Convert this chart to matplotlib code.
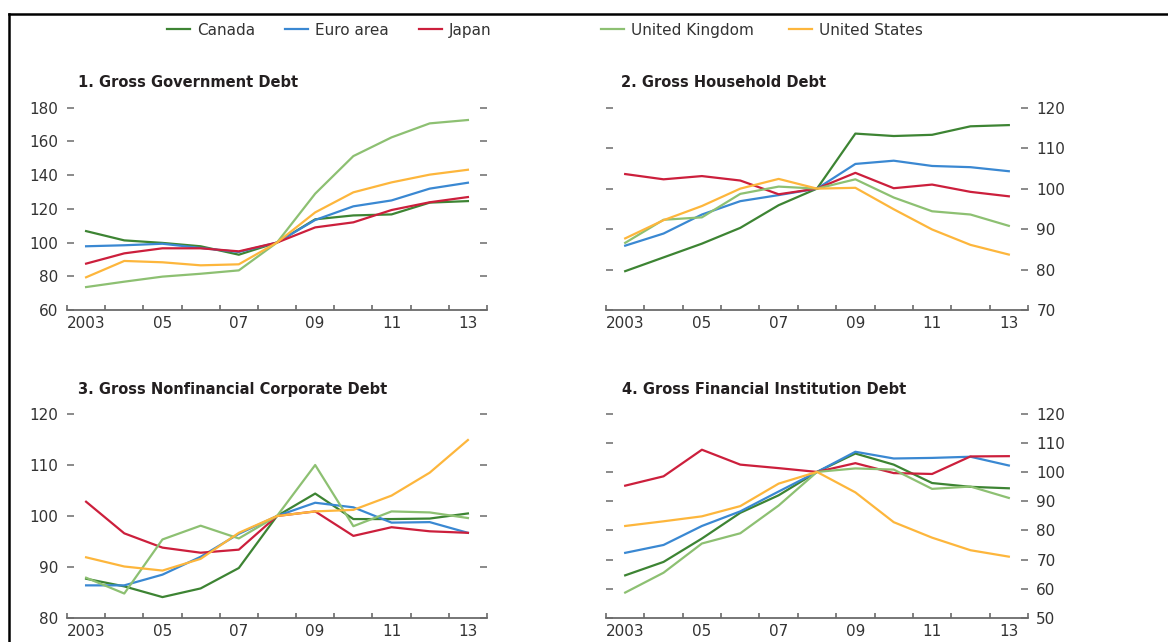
import matplotlib.pyplot as plt
from matplotlib.lines import Line2D
import numpy as np

# Index values, 2008 = 100
years = np.arange(2003, 2014)
label_years = [2003, 2005, 2007, 2009, 2011, 2013]
label_text = ["2003", "05", "07", "09", "11", "13"]

countries = ["Canada", "Euro area", "Japan", "United Kingdom", "United States"]
colors = ["#3d8433", "#3a88d2", "#cc1f3c", "#8dc072", "#fdb63c"]

# 1. Gross Government Debt
gov_canada = [106.8, 101.3, 99.8, 97.8, 92.8, 100, 113.8, 116.1, 116.7, 123.7, 124.6]
gov_euro = [97.8, 98.4, 99.3, 96.8, 94.4, 100, 113.4, 121.5, 125.0, 132.0, 135.5]
gov_japan = [87.5, 93.6, 96.6, 96.6, 94.8, 100, 109.0, 112.0, 119.3, 123.9, 127.0]
gov_uk = [73.6, 76.8, 79.8, 81.5, 83.5, 100, 129.0, 151.3, 162.4, 170.7, 172.7]
gov_us = [79.4, 89.1, 88.3, 86.5, 87.1, 100, 117.9, 129.8, 135.7, 140.3, 143.2]

# 2. Gross Household Debt
hh_canada = [79.6, 83.0, 86.4, 90.3, 95.9, 100, 113.6, 113.0, 113.3, 115.4, 115.7]
hh_euro = [85.9, 88.9, 93.6, 96.9, 98.4, 100, 106.1, 106.9, 105.6, 105.3, 104.3]
hh_japan = [103.6, 102.3, 103.1, 102.0, 98.6, 100, 103.9, 100.1, 101.0, 99.2, 98.1]
hh_uk = [86.6, 92.3, 92.9, 98.7, 100.5, 100, 102.3, 97.8, 94.4, 93.6, 90.8]
hh_us = [87.7, 92.2, 95.7, 100.0, 102.4, 100, 100.2, 94.9, 89.9, 86.1, 83.7]

# 3. Gross Nonfinancial Corporate Debt
corp_canada = [87.7, 86.2, 84.1, 85.8, 89.8, 100, 104.4, 99.4, 99.4, 99.5, 100.5]
corp_euro = [86.4, 86.4, 88.5, 92.0, 96.5, 100, 102.6, 101.7, 98.7, 98.8, 96.7]
corp_japan = [102.8, 96.6, 93.8, 92.8, 93.4, 100, 100.9, 96.1, 97.8, 97.0, 96.7]
corp_uk = [87.9, 84.8, 95.4, 98.1, 95.6, 100, 110.0, 98.0, 100.9, 100.7, 99.6]
corp_us = [91.9, 90.1, 89.3, 91.6, 96.7, 100, 100.9, 101.2, 104.0, 108.5, 114.9]

# 4. Gross Financial Institution Debt
fin_canada = [64.6, 69.2, 77.2, 86.0, 92.0, 100, 106.3, 102.5, 96.2, 94.9, 94.4]
fin_euro = [72.3, 75.0, 81.5, 86.5, 93.3, 100, 106.9, 104.6, 104.8, 105.2, 102.2]
fin_japan = [95.3, 98.5, 107.6, 102.5, 101.3, 100, 103.0, 99.6, 99.3, 105.3, 105.4]
fin_uk = [58.7, 65.5, 75.5, 79.0, 88.5, 100, 101.2, 100.8, 94.2, 95.0, 91.1]
fin_us = [81.5, 83.1, 84.8, 88.3, 96.0, 100, 93.0, 82.8, 77.5, 73.2, 71.0]

text_col = "#333333"
axis_grey = "#6b6b6b"
W, H = 1168, 642


def px_rect(x0, y_top, x1, y_bot):
    return [x0 / W, (H - y_bot) / H, (x1 - x0) / W, (y_bot - y_top) / H]


def setup_axis(ax, ylo, yhi, step, label_side):
    ax.set_xlim(2002.5, 2013.5)
    ax.set_ylim(ylo, yhi)
    for s in ["top", "left", "right"]:
        ax.spines[s].set_visible(False)
    ax.spines["bottom"].set_color(axis_grey)
    ax.spines["bottom"].set_linewidth(1.3)
    ax.set_xticks(np.arange(2002.5, 2014, 1))
    ax.set_xticklabels([])
    ax.set_xticks(label_years, minor=True)
    ax.set_xticklabels(label_text, minor=True)
    ax.tick_params(axis="x", which="major", direction="in", length=3.5,
                   width=1.2, color=axis_grey)
    ax.tick_params(axis="x", which="minor", length=0, pad=4,
                   labelsize=11, labelcolor=text_col)
    ax.set_yticks(np.arange(ylo, yhi + 1, step))
    ax.tick_params(axis="y", direction="in", length=5, width=1.1,
                   color=axis_grey, left=True, right=True,
                   labelleft=(label_side == "left"),
                   labelright=(label_side == "right"),
                   pad=6, labelsize=11, labelcolor=text_col)


fig = plt.figure(figsize=(W / 100, H / 100), dpi=100)

panels = [
    ("1. Gross Government Debt", [gov_canada, gov_euro, gov_japan, gov_uk, gov_us],
     (60, 180, 20), "left", px_rect(67, 107.7, 487, 310), (78, 87)),
    ("2. Gross Household Debt", [hh_canada, hh_euro, hh_japan, hh_uk, hh_us],
     (70, 120, 10), "right", px_rect(606, 107.7, 1028, 310), (621, 87)),
    ("3. Gross Nonfinancial Corporate Debt", [corp_canada, corp_euro, corp_japan, corp_uk, corp_us],
     (80, 120, 10), "left", px_rect(67, 414, 487, 618), (78, 394)),
    ("4. Gross Financial Institution Debt", [fin_canada, fin_euro, fin_japan, fin_uk, fin_us],
     (50, 120, 10), "right", px_rect(606, 413.5, 1028, 618), (622, 394)),
]

for title, series, (ylo, yhi, step), side, rect, (tx, ty) in panels:
    ax = fig.add_axes(rect)
    for name, vals, col in zip(countries, series, colors):
        ax.plot(years, vals, color=col, lw=1.6, label=name, clip_on=False)
    setup_axis(ax, ylo, yhi, step, side)
    fig.text(tx / W, (H - ty) / H, title, fontsize=10.5, fontweight="bold",
             color="#231f20", ha="left", va="baseline")

# legend across the top, entries placed like the original (uneven gaps)
legend_x = [167, 285, 419, 601, 789]
ly = (H - 29) / H
for x0, name, col in zip(legend_x, countries, colors):
    fig.add_artist(Line2D([x0 / W, (x0 + 23) / W], [ly, ly], color=col, lw=1.6))
    fig.text((x0 + 30) / W, ly, name, fontsize=11, color=text_col,
             ha="left", va="center_baseline")

# partial frame: top and left edges
fig.add_artist(Line2D([9 / W, 1.0], [(H - 14) / H, (H - 14) / H], color="black", lw=1.8))
fig.add_artist(Line2D([9 / W, 9 / W], [0, (H - 14) / H], color="black", lw=1.8))

plt.savefig("out.png", dpi=100)
